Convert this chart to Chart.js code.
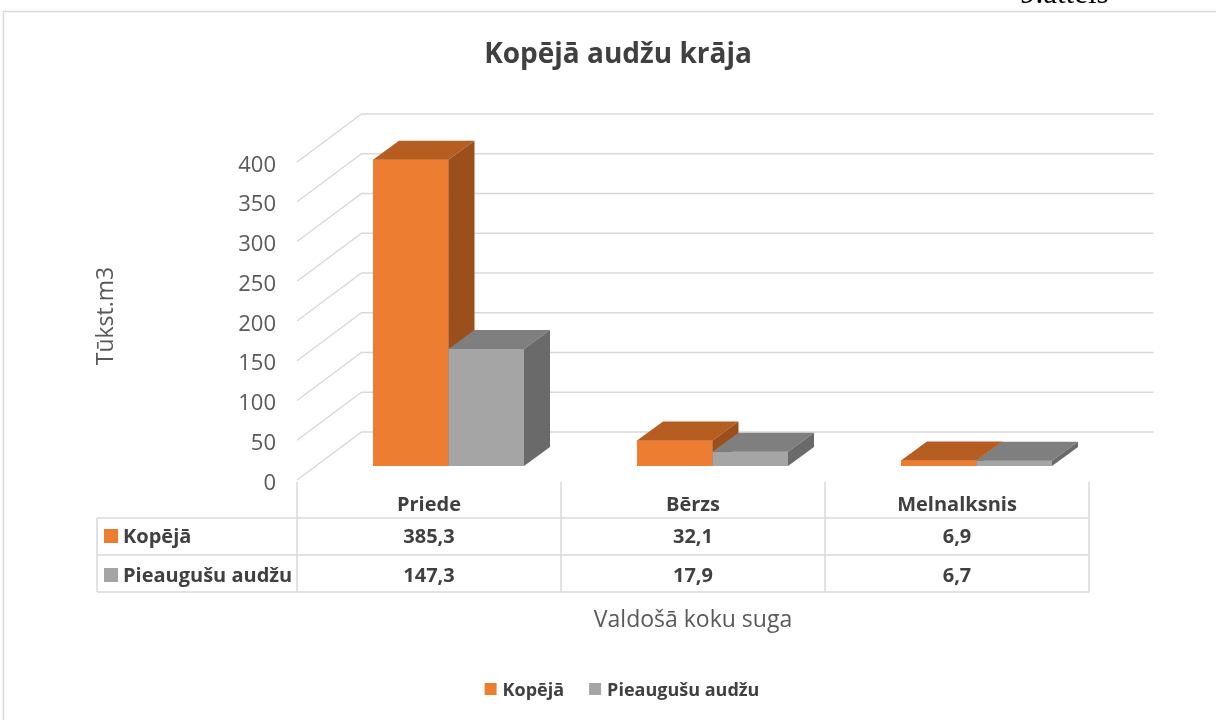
<!DOCTYPE html>
<html><head><meta charset="utf-8">
<script src="https://cdn.jsdelivr.net/npm/chart.js@4.4.1/dist/chart.umd.min.js"></script>
<style>html,body{margin:0;padding:0;background:#fff;overflow:hidden}</style>
</head><body><canvas id="c" width="1216" height="720"></canvas>
<script>
const categories = ['Priede', 'Bērzs', 'Melnalksnis'];
const seriesNames = ['Kopējā', 'Pieaugušu audžu'];
const kopeja = [385.3, 32.1, 6.9];
const pieaugusu = [147.3, 17.9, 6.7];
const yTicks = [0, 50, 100, 150, 200, 250, 300, 350, 400];
const chartTitle = 'Kopējā audžu krāja';
const yTitle = 'Tūkst.m3';
const xTitle = 'Valdošā koku suga';
const figLabel = '9.attēls';

const FRONT = ['#ED7D31', '#A5A5A5'];
const TOP = ['#B65E22', '#7F7F7F'];
const SIDE = ['#9A4F1D', '#6A6A6A'];
const GRID = '#D9D9D9';
const FONT = '"Open Sans", "Noto Sans", sans-serif';
const BAR_DX = 26, BAR_DY = -19;       // bar depth
const BACK_DX = 45, BACK_DY = -34;     // bar plane -> back wall
const FRONT_DX = -19.5, FRONT_DY = 14; // bar plane -> front edge

function fmt(v) { return v.toFixed(1).replace('.', ','); }

const plugin3d = {
  id: 'plugin3d',
  beforeDatasetsDraw(chart) {
    const ctx = chart.ctx;
    const {y} = chart.scales;
    const ca = chart.chartArea;
    ctx.save();
    // outer border
    ctx.strokeStyle = GRID; ctx.lineWidth = 1.5;
    ctx.beginPath(); ctx.moveTo(3.5, 730); ctx.lineTo(3.5, 11.5); ctx.lineTo(1230, 11.5); ctx.stroke();
    // fig label (cut at top edge)
    ctx.fillStyle = '#000'; ctx.font = '31px "Liberation Serif", serif';
    ctx.textAlign = 'left'; ctx.textBaseline = 'alphabetic';
    ctx.fillText(figLabel, 1020, 3);
    // title
    ctx.fillStyle = '#404040'; ctx.font = 'bold 28px ' + FONT;
    ctx.textAlign = 'center';
    ctx.fillText(chartTitle, 618, 63);
    // gridlines
    ctx.strokeStyle = GRID; ctx.lineWidth = 1.5;
    yTicks.forEach(t => {
      const py = y.getPixelForValue(t);
      ctx.beginPath();
      ctx.moveTo(ca.left + FRONT_DX, py + FRONT_DY);
      ctx.lineTo(ca.left + BACK_DX, py + BACK_DY);
      ctx.lineTo(ca.right + BACK_DX, py + BACK_DY);
      ctx.stroke();
    });
    // y tick labels
    ctx.fillStyle = '#595959'; ctx.font = '22px ' + FONT;
    ctx.textAlign = 'right';
    yTicks.forEach(t => {
      const py = y.getPixelForValue(t);
      ctx.fillText(String(t), ca.left + FRONT_DX - 21, py + FRONT_DY + 9.5);
    });
    // y title
    ctx.save();
    ctx.translate(113, 316); ctx.rotate(-Math.PI / 2);
    ctx.font = '23px ' + FONT; ctx.textAlign = 'center';
    ctx.fillText(yTitle, 0, 0);
    ctx.restore();
    // data table
    const cw = (ca.right - ca.left) / categories.length;
    const x0 = ca.left + FRONT_DX;
    const tLeft = 97, rTop = 482, r1 = 518, r2 = 555, r3 = 592;
    const xEnd = x0 + cw * categories.length;
    ctx.strokeStyle = GRID; ctx.lineWidth = 1.5;
    ctx.beginPath();
    [r1, r2, r3].forEach(ry => { ctx.moveTo(tLeft, ry); ctx.lineTo(xEnd, ry); });
    ctx.moveTo(tLeft, r1); ctx.lineTo(tLeft, r3);
    for (let i = 0; i <= categories.length; i++) {
      ctx.moveTo(x0 + cw * i, rTop); ctx.lineTo(x0 + cw * i, r3);
    }
    ctx.stroke();
    ctx.fillStyle = '#404040'; ctx.font = 'bold 20px ' + FONT;
    ctx.textAlign = 'center';
    categories.forEach((c, i) => {
      const cx = x0 + cw * (i + 0.5);
      ctx.fillText(c, cx, 511);
      ctx.fillText(fmt(kopeja[i]), cx, 543);
      ctx.fillText(fmt(pieaugusu[i]), cx, 582);
    });
    ctx.textAlign = 'left';
    seriesNames.forEach((n, k) => {
      const base = k === 0 ? 543 : 582;
      ctx.fillStyle = FRONT[k];
      ctx.fillRect(104, base - 14, 14, 14);
      ctx.fillStyle = '#404040';
      ctx.fillText(n, 123, base);
    });
    // x title
    ctx.fillStyle = '#595959'; ctx.font = '23px ' + FONT; ctx.textAlign = 'center';
    ctx.fillText(xTitle, (x0 + xEnd) / 2, 627);
    // legend
    ctx.font = 'bold 18px ' + FONT; ctx.textAlign = 'left';
    const gap = 25, box = 12, pad = 6;
    const widths = seriesNames.map(n => ctx.measureText(n).width);
    const total = box + pad + widths[0] + gap + box + pad + widths[1];
    let lx = 622 - total / 2;
    widths.forEach((w, k) => {
      ctx.fillStyle = FRONT[k]; ctx.fillRect(lx, 683, box, box);
      ctx.fillStyle = '#404040'; ctx.fillText(seriesNames[k], lx + box + pad, 696);
      lx += box + pad + w + gap;
    });
    ctx.restore();
  },
  afterDatasetsDraw(chart) {
    const ctx = chart.ctx;
    const metas = [chart.getDatasetMeta(0), chart.getDatasetMeta(1)];
    ctx.save();
    for (let i = 0; i < categories.length; i++) {
      metas.forEach((m, k) => {
        const p = m.data[i].getProps(['x', 'y', 'base', 'width'], true);
        const l = p.x - p.width / 2, r = p.x + p.width / 2, t = p.y, b = p.base;
        ctx.fillStyle = FRONT[k]; ctx.fillRect(l, t, r - l, b - t);
        ctx.fillStyle = TOP[k];
        ctx.beginPath(); ctx.moveTo(l, t); ctx.lineTo(l + BAR_DX, t + BAR_DY); ctx.lineTo(r + BAR_DX, t + BAR_DY); ctx.lineTo(r, t); ctx.closePath(); ctx.fill();
        ctx.fillStyle = SIDE[k];
        ctx.beginPath(); ctx.moveTo(r, t); ctx.lineTo(r + BAR_DX, t + BAR_DY); ctx.lineTo(r + BAR_DX, b + BAR_DY); ctx.lineTo(r, b); ctx.closePath(); ctx.fill();
      });
    }
    ctx.restore();
  }
};

new Chart(document.getElementById('c'), {
  type: 'bar',
  data: {
    labels: categories,
    datasets: [
      {label: seriesNames[0], data: kopeja, backgroundColor: FRONT[0], borderWidth: 0},
      {label: seriesNames[1], data: pieaugusu, backgroundColor: FRONT[1], borderWidth: 0}
    ]
  },
  options: {
    responsive: false, animation: false, events: [],
    layout: {padding: {left: 316.5, right: 107.5, top: 148, bottom: 254}},
    categoryPercentage: 0.572, barPercentage: 1,
    scales: {x: {display: false}, y: {display: false, min: 0, max: 400}},
    plugins: {legend: {display: false}, title: {display: false}, tooltip: {enabled: false}}
  },
  plugins: [plugin3d]
});
</script>
</body></html>
